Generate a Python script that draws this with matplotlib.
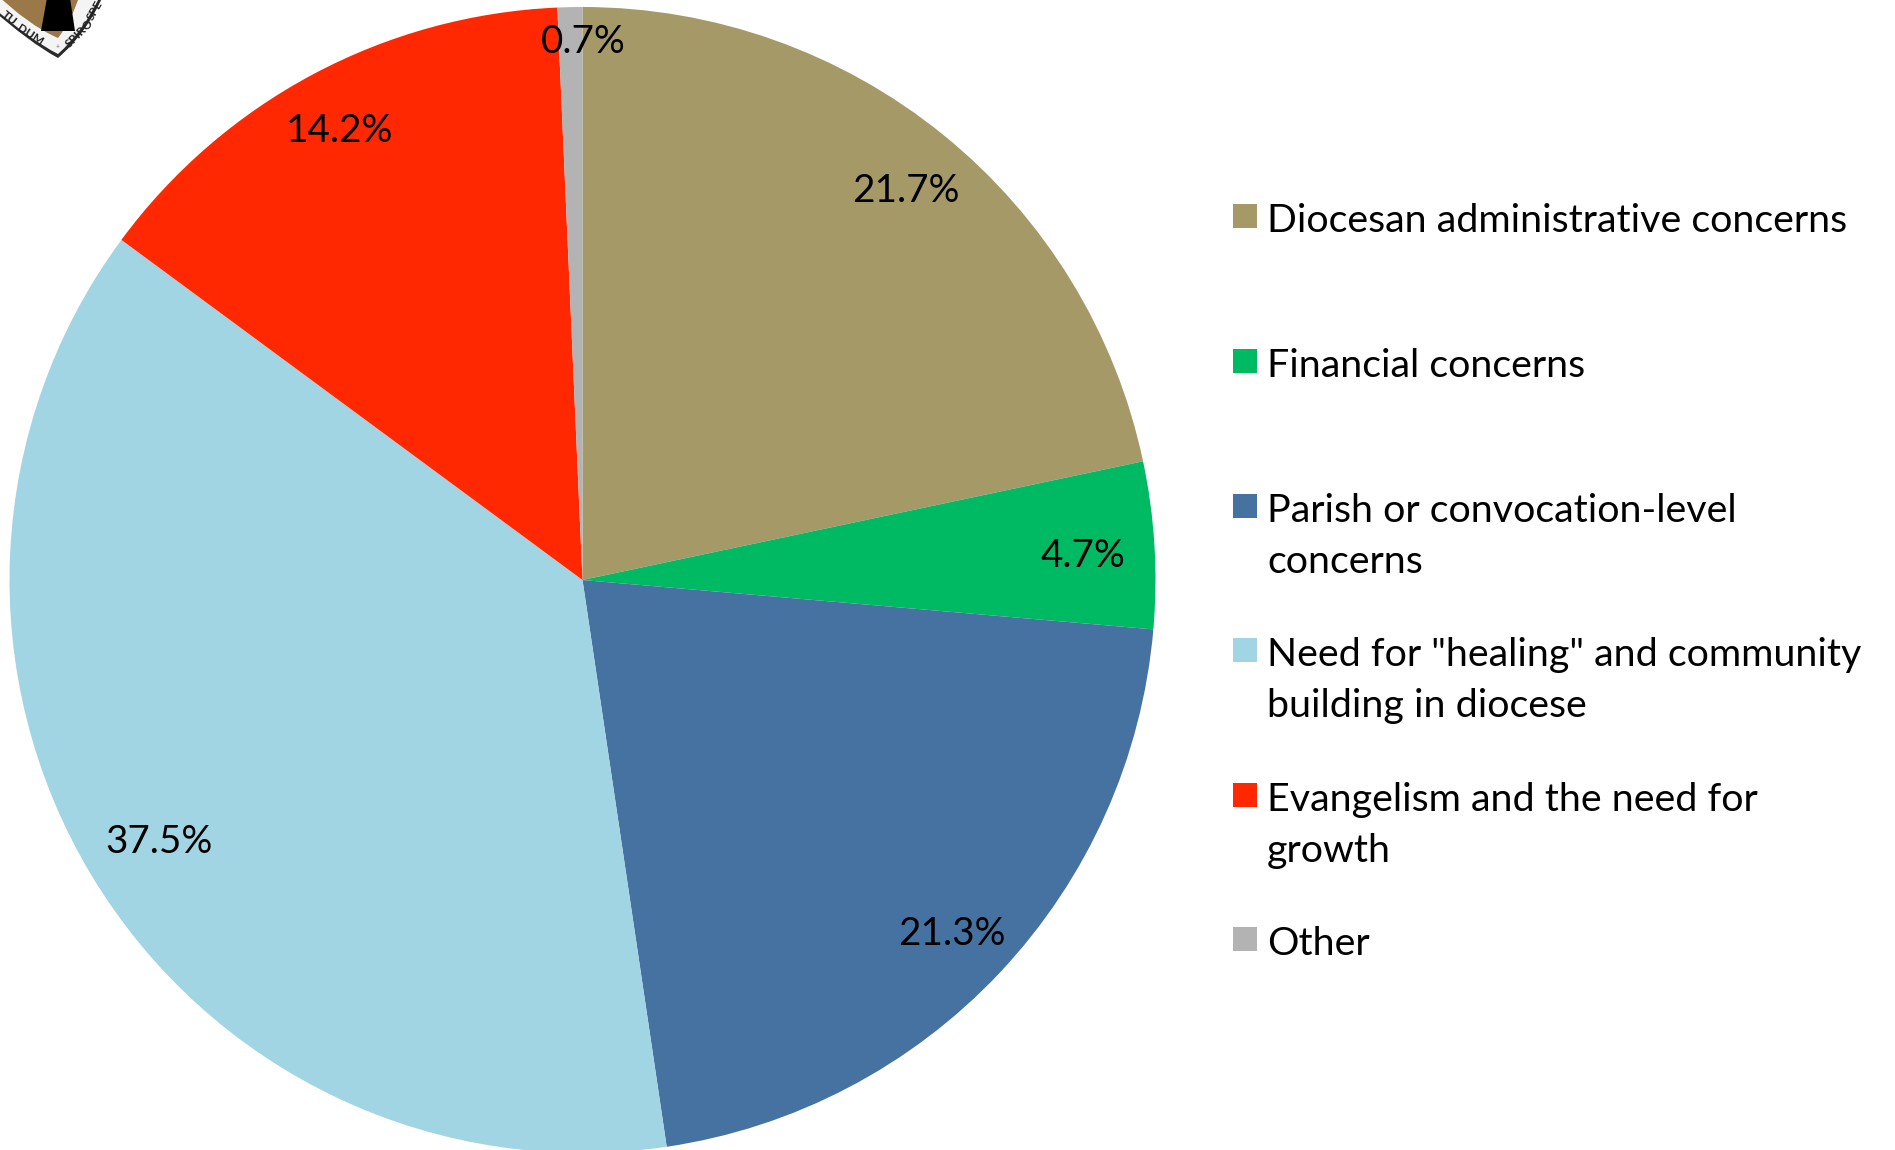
import matplotlib
matplotlib.use("Agg")
import matplotlib.pyplot as plt
from matplotlib.patches import PathPatch, Rectangle
from matplotlib.path import Path
import numpy as np

categories = [
    "Diocesan administrative concerns",
    "Financial concerns",
    "Parish or convocation-level\nconcerns",
    'Need for "healing" and community\nbuilding in diocese',
    "Evangelism and the need for\ngrowth",
    "Other",
]
shares = [21.7, 4.7, 21.3, 37.5, 14.2, 0.7]
colors = ["#A59A67", "#00BA63", "#4672A2", "#A2D5E4", "#FF2800", "#B3B3B3"]

W, H = 1895, 1150
CX, CY, R = 582.5, 580, 573
FONT = "Lato"
LEGEND_SIZE = 28.4
LABEL_SIZE = 27.8

fig = plt.figure(figsize=(W / 100, H / 100), dpi=100, facecolor="white")

# Pie axes: the unit circle fills a square of side 2R around the centre
ax = fig.add_axes([(CX - R) / W, 1 - (CY + R) / H, 2 * R / W, 2 * R / H])
wedges, _ = ax.pie(
    shares, colors=colors, startangle=90, counterclock=False, radius=1.0,
    wedgeprops={"edgecolor": "none", "linewidth": 0},
)
ax.set_xlim(-1, 1)
ax.set_ylim(-1, 1)
ax.set_aspect("equal")

# Percentage labels sit along each wedge's bisector, nudged by a few pixels
label_radii = [0.885, 0.875, 0.89, 0.867, 0.895, 0.945]
label_nudge_x = [4, 0, -2, 2, -2, 13]
label_nudge_y = [-3.5, -4.5, -3.5, -4, -2.5, -2.5]
for wedge, share, rad, nx, ny in zip(wedges, shares, label_radii, label_nudge_x, label_nudge_y):
    mid = np.deg2rad((wedge.theta1 + wedge.theta2) / 2)
    ax.annotate(f"{share:.1f}%", (rad * np.cos(mid), rad * np.sin(mid)),
                xytext=(nx * 0.72, ny), textcoords="offset points",
                ha="center", va="center", fontsize=LABEL_SIZE, family=FONT, color="black")

# Overlay in pixel coordinates for the legend and the crest
ov = fig.add_axes([0, 0, 1, 1], facecolor="none")
ov.set_xlim(0, W)
ov.set_ylim(H, 0)
ov.axis("off")

# Legend rows, with one swatch per category
row_tops = [204, 349, 494, 638, 783, 927]
for label, color, top in zip(categories, colors, row_tops):
    ov.add_patch(Rectangle((1233, top), 24, 24, facecolor=color, edgecolor="none"))
    for i, line in enumerate(label.split("\n")):
        ov.text(1267, top + 28 + i * 51, line, ha="left", va="baseline",
                fontsize=LEGEND_SIZE, family=FONT, color="black")


def crest_shape(left, left_ctrl, tip, right_ctrl, right):
    """Closed outline running from the left end down to the tip and up to the right end."""
    return Path([left, left_ctrl, tip, right_ctrl, right, left],
                [Path.MOVETO, Path.CURVE3, Path.CURVE3, Path.CURVE3, Path.CURVE3, Path.CLOSEPOLY])


# Crest cut off by the top-left corner of the figure
ov.add_patch(PathPatch(crest_shape((-12, 6), (30, 43), (58, 58), (86, 34), (103, -4)),
                       facecolor="#2A2A2A", edgecolor="none"))
ov.add_patch(PathPatch(crest_shape((-12, 3), (30, 40), (58, 54), (83, 32), (100, -4)),
                       facecolor="#F4F4F4", edgecolor="none"))
ov.add_patch(PathPatch(crest_shape((-6, -8), (28, 25), (58, 38), (72, 20), (80, -6)),
                       facecolor="#9A7848", edgecolor="none"))
ov.add_patch(PathPatch(Path([(47, -2), (70, -2), (75, 31), (41, 31), (47, -2)],
                            [Path.MOVETO, Path.LINETO, Path.LINETO, Path.LINETO, Path.CLOSEPOLY]),
                       facecolor="black", edgecolor="none"))
crest_text = {"family": FONT, "weight": "bold", "color": "#222222", "fontsize": 8.5,
              "ha": "center", "va": "center"}
ov.text(30, 35, "DUM", rotation=-33, **crest_text)
ov.text(9, 18, "TU", rotation=-38, **crest_text)
ov.text(80, 33, "SPIRO", rotation=45, **crest_text)
ov.text(95, 10, "SPE", rotation=60, **crest_text)
ov.text(58, 47, "+", ha="center", va="center", fontsize=5, family=FONT, color="#777777")

fig.savefig("out.png", dpi=100)
